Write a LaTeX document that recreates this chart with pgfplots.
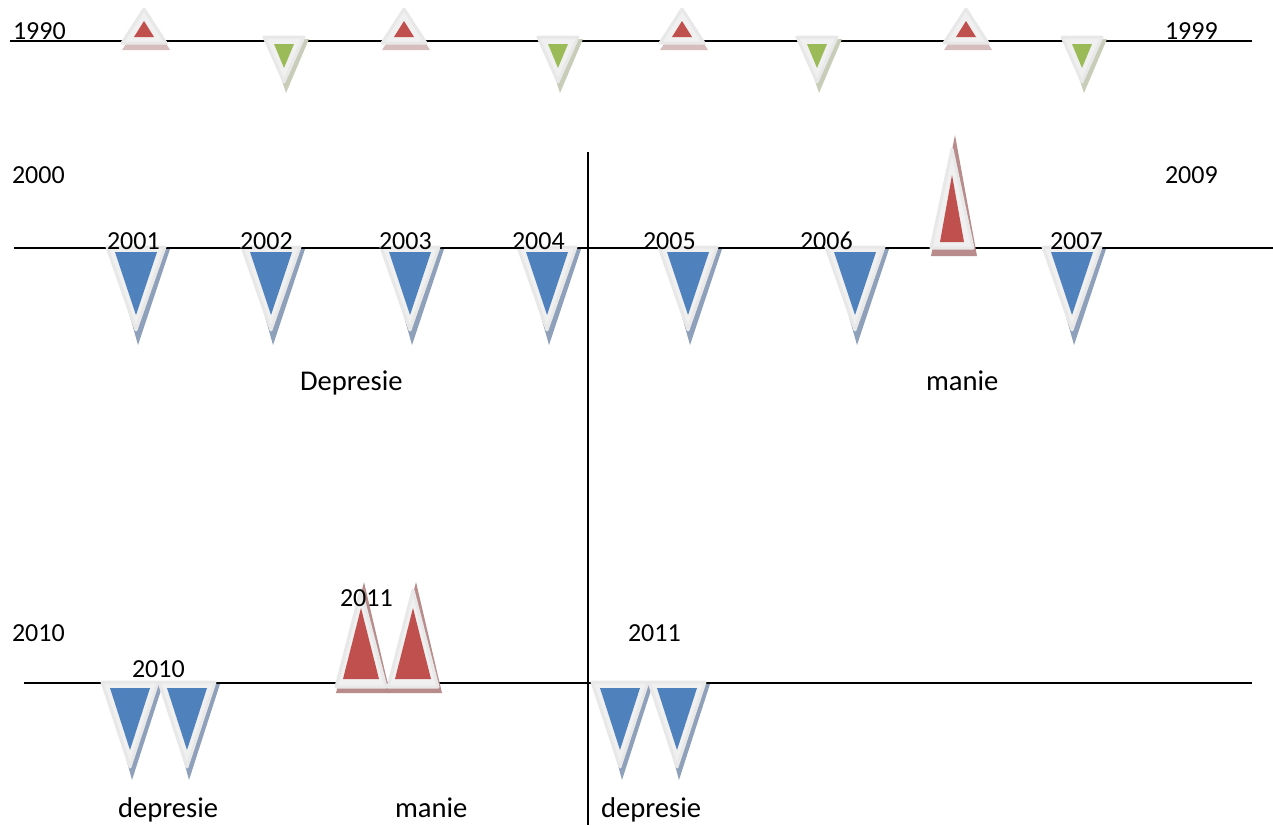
\documentclass[border=0pt]{standalone}
\usepackage{pgfplots}
\pgfplotsset{compat=1.18}
\usepackage{fontspec}
\setmainfont{Carlito}

\definecolor{tred}{RGB}{192,80,77}
\definecolor{tblue}{RGB}{79,129,189}
\definecolor{tgreen}{RGB}{155,187,89}
\definecolor{outer}{RGB}{240,240,240}
\definecolor{outeredge}{RGB}{232,232,232}
\definecolor{shblue}{RGB}{142,160,186}
\definecolor{shred}{RGB}{185,140,140}
\definecolor{shredlight}{RGB}{215,190,190}
\definecolor{shgreen}{RGB}{200,205,185}

\tikzset{lbl/.style={anchor=base west, inner sep=0pt, outer sep=0pt, font=\fontsize{13}{15}\selectfont},
         wrd/.style={lbl, font=\fontsize{14.3}{16}\selectfont}}

% down triangle: cx, top, half width, apex, inner top, inner half width, inner apex, fill, shadow
\newcommand{\dtri}[9]{%
  \pgfmathsetmacro\ta{#1-#3+4}\pgfmathsetmacro\tb{#1+#3+5}%
  \pgfmathsetmacro\tc{#2+2}\pgfmathsetmacro\td{#1+2}%
  \pgfmathsetmacro\te{#1-#3}\pgfmathsetmacro\tf{#1+#3}%
  \pgfmathsetmacro\tg{#1-#6}\pgfmathsetmacro\th{#1+#6}%
  \edef\doplot{%
    \noexpand\addplot[fill=#9,draw=none] coordinates {(\ta,\tc) (\tb,\tc) (\td,\shapex)} -- cycle;
    \noexpand\addplot[fill=outer,draw=outeredge,line width=1.5pt,line join=round] coordinates {(\te,#2) (\tf,#2) (#1,#4)} -- cycle;
    \noexpand\addplot[fill=#8,draw=none] coordinates {(\tg,#5) (\th,#5) (#1,#7)} -- cycle;
  }\doplot}

% up triangle: cx, apex, base, half width, inner apex, inner base, inner half width, shadow, shadow apex
\newcommand{\utri}[9]{%
  \pgfmathsetmacro\ta{#1-#4}\pgfmathsetmacro\tb{#1+#4+4}%
  \pgfmathsetmacro\td{#1+3}%
  \pgfmathsetmacro\te{#1-#4}\pgfmathsetmacro\tf{#1+#4}%
  \pgfmathsetmacro\tg{#1-#7}\pgfmathsetmacro\th{#1+#7}%
  \edef\doplot{%
    \noexpand\addplot[fill=#8,draw=none] coordinates {(\ta,\shbase) (\tb,\shbase) (\td,#9)} -- cycle;
    \noexpand\addplot[fill=outer,draw=outeredge,line width=1.5pt,line join=round] coordinates {(\te,#3) (\tf,#3) (#1,#2)} -- cycle;
    \noexpand\addplot[fill=tred,draw=none] coordinates {(\tg,#6) (\th,#6) (#1,#5)} -- cycle;
  }\doplot}

\begin{document}
\begin{tikzpicture}
\begin{axis}[
    scale only axis,
    width=636.5pt, height=412.5pt,
    xmin=0, xmax=1273, ymin=0, ymax=825,
    y dir=reverse,
    hide axis,
    clip=false,
    every axis plot/.append style={mark=none},
]
% time lines
\addplot[black, line width=1pt] coordinates {(10,41) (1252,41)};
\addplot[black, line width=1pt] coordinates {(14,248) (1273,248)};
\addplot[black, line width=1pt] coordinates {(24,683) (1252,683)};
\addplot[black, line width=1pt] coordinates {(588,152) (588,825)};

% 1990s
\def\shbase{50}
\utri{144}{9}{43}{22}{21}{37}{10}{shredlight}{12}
\utri{404}{9}{43}{22}{21}{37}{10}{shredlight}{12}
\utri{682}{9}{43}{22}{21}{37}{10}{shredlight}{12}
\utri{966}{9}{43}{22}{21}{37}{10}{shredlight}{12}
\def\shapex{93}
\dtri{284}{37}{20}{82}{44}{10}{68}{tgreen}{shgreen}
\dtri{558}{37}{20}{82}{44}{10}{68}{tgreen}{shgreen}
\dtri{817}{37}{20}{82}{44}{10}{68}{tgreen}{shgreen}
\dtri{1082}{37}{20}{82}{44}{10}{68}{tgreen}{shgreen}

% 2000s
\def\shapex{345}
\dtri{136}{247}{29}{330}{252}{21}{315}{tblue}{shblue}
\dtri{271}{247}{29}{330}{252}{21}{315}{tblue}{shblue}
\dtri{410}{247}{29}{330}{252}{21}{315}{tblue}{shblue}
\dtri{547}{247}{29}{330}{252}{21}{315}{tblue}{shblue}
\dtri{688}{247}{29}{330}{252}{21}{315}{tblue}{shblue}
\dtri{855}{247}{29}{330}{252}{21}{315}{tblue}{shblue}
\dtri{1072}{247}{29}{330}{252}{21}{315}{tblue}{shblue}
\def\shbase{256}
\utri{952}{149}{248}{21}{175}{242}{12}{shred}{135}

% 2010s
\def\shapex{780}
\dtri{130}{682}{28}{767}{688}{20}{750}{tblue}{shblue}
\dtri{187}{682}{28}{767}{688}{20}{750}{tblue}{shblue}
\dtri{620}{682}{28}{767}{688}{20}{750}{tblue}{shblue}
\dtri{677}{682}{28}{767}{688}{20}{750}{tblue}{shblue}
\def\shbase{693}
\utri{361}{590}{687}{25}{608}{679}{18}{shred}{582}
\utri{413}{590}{687}{25}{608}{679}{18}{shred}{582}

% labels
\node[lbl] at (13,39) {1990};
\node[lbl] at (1165,39) {1999};
\node[lbl] at (12,183) {2000};
\node[lbl] at (1165,183) {2009};
\node[lbl] at (107,249) {2001};
\node[lbl] at (240,249) {2002};
\node[lbl] at (379,249) {2003};
\node[lbl] at (512,249) {2004};
\node[lbl] at (643,249) {2005};
\node[lbl] at (800,249) {2006};
\node[lbl] at (1050,249) {2007};
\node[wrd] at (300,390) {Depresie};
\node[wrd] at (926,390) {manie};
\node[lbl] at (12,641) {2010};
\node[lbl] at (628,641) {2011};
\node[lbl] at (132,677) {2010};
\node[lbl] at (340,606) {2011};
\node[wrd] at (118,817) {depresie};
\node[wrd] at (395,817) {manie};
\node[wrd] at (601,817) {depresie};
\end{axis}
\pgfresetboundingbox
\path[use as bounding box] (current axis.south west) rectangle (current axis.north east);
\end{tikzpicture}
\end{document}
